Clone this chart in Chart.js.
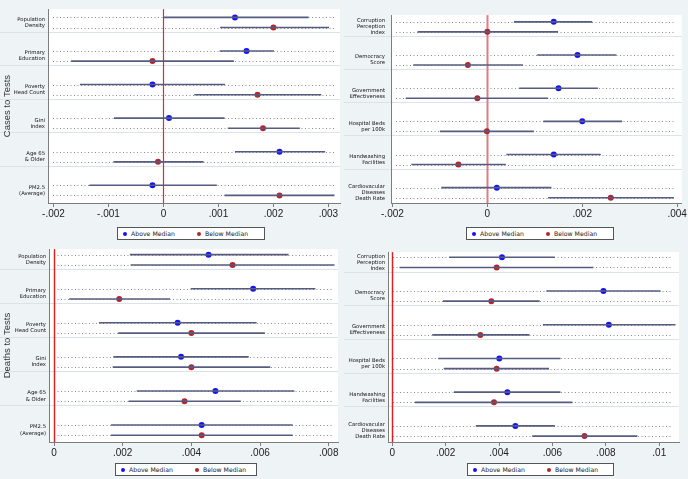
<!DOCTYPE html>
<html>
<head>
<meta charset="utf-8">
<script src="https://cdn.jsdelivr.net/npm/chart.js@4.4.1/dist/chart.umd.min.js"></script>
<style>
  body { margin: 0; background: #eef3f5; }
  #wrap { position: relative; width: 688px; height: 479px; overflow: hidden; }
  canvas { position: absolute; }
  .legend {
    position: absolute; height: 13px; background: #fff; border: 1px solid #555;
    font: 6.2px 'DejaVu Sans', sans-serif; color: #222; box-sizing: border-box; z-index: 2;
    white-space: nowrap;
  }
  .legend .item { position: absolute; top: 0; height: 11px; display: flex; align-items: center; }
  .legend .dot { width: 4px; height: 4px; border-radius: 50%; display: inline-block; margin-right: 4px; }
</style>
</head>
<body>
<div id="wrap">
  <canvas id="c1" width="344" height="225" style="left:0;top:0"></canvas>
  <canvas id="c2" width="344" height="225" style="left:344px;top:0"></canvas>
  <canvas id="c3" width="344" height="224" style="left:0;top:240px"></canvas>
  <canvas id="c4" width="344" height="224" style="left:344px;top:240px"></canvas>
</div>
<script>
// --- data ---
const seriesNames = ['Above Median', 'Below Median'];
const seriesColors = ['#1414f5', '#b3262b'];

const socialCats = [['Population', 'Density'], ['Primary', 'Education'], ['Poverty', 'Head Count'],
                    ['Gini', 'Index'], ['Age 65', '& Older'], ['PM2.5', '(Average)']];
const institCats = [['Corruption', 'Perception', 'Index'], ['Democracy', 'Score'], ['Government', 'Effectiveness'],
                    ['Hospital Beds', 'per 100k'], ['Handwashing', 'Facilities'], ['Cardiovacular', 'Diseases', 'Death Rate']];

// Cases to Tests, social factors
const casesSocAbove   = [0.00130, 0.00151, -0.00020, 0.00010, 0.00211, -0.00020];
const casesSocAboveLo = [0.00000, 0.00102, -0.00152, -0.00090, 0.00130, -0.00135];
const casesSocAboveHi = [0.00264, 0.00201, 0.00112, 0.00111, 0.00294, 0.00097];
const casesSocBelow   = [0.00200, -0.00020, 0.00171, 0.00181, -0.00010, 0.00211];
const casesSocBelowLo = [0.00103, -0.00168, 0.00056, 0.00117, -0.00091, 0.00111];
const casesSocBelowHi = [0.00301, 0.00128, 0.00287, 0.00248, 0.00073, 0.00311];

// Cases to Tests, institutional factors
const casesInsAbove   = [0.00140, 0.00190, 0.00150, 0.00200, 0.00140, 0.00020];
const casesInsAboveLo = [0.00056, 0.00105, 0.00067, 0.00118, 0.00040, -0.00097];
const casesInsAboveHi = [0.00221, 0.00272, 0.00233, 0.00284, 0.00239, 0.00135];
const casesInsBelow   = [0.00000, -0.00041, -0.00021, -0.00001, -0.00061, 0.00260];
const casesInsBelowLo = [-0.00147, -0.00156, -0.00172, -0.00100, -0.00160, 0.00128];
const casesInsBelowHi = [0.00149, 0.00075, 0.00128, 0.00098, 0.00039, 0.00393];

// Deaths to Tests, social factors
const deathsSocAbove   = [0.00450, 0.00580, 0.00360, 0.00370, 0.00470, 0.00430];
const deathsSocAboveLo = [0.00221, 0.00398, 0.00131, 0.00173, 0.00241, 0.00166];
const deathsSocAboveHi = [0.00683, 0.00761, 0.00590, 0.00567, 0.00700, 0.00695];
const deathsSocBelow   = [0.00520, 0.00190, 0.00400, 0.00400, 0.00380, 0.00430];
const deathsSocBelowLo = [0.00223, 0.00044, 0.00187, 0.00171, 0.00217, 0.00166];
const deathsSocBelowHi = [0.00817, 0.00338, 0.00614, 0.00630, 0.00544, 0.00695];

// Deaths to Tests, institutional factors
const deathsInsAbove   = [0.00411, 0.00791, 0.00811, 0.00401, 0.00431, 0.00461];
const deathsInsAboveLo = [0.00213, 0.00577, 0.00564, 0.00172, 0.00231, 0.00313];
const deathsInsAboveHi = [0.00609, 0.01005, 0.01061, 0.00630, 0.00630, 0.00609];
const deathsInsBelow   = [0.00391, 0.00371, 0.00330, 0.00391, 0.00381, 0.00720];
const deathsInsBelowLo = [0.00027, 0.00190, 0.00150, 0.00193, 0.00085, 0.00524];
const deathsInsBelowHi = [0.00753, 0.00552, 0.00514, 0.00587, 0.00675, 0.00918];

// tick labels
const ticksCasesSoc  = [-0.002, -0.001, 0, 0.001, 0.002, 0.003];
const ticksCasesIns  = [-0.002, 0, 0.002, 0.004];
const ticksDeathsSoc = [0, 0.002, 0.004, 0.006, 0.008];
const ticksDeathsIns = [0, 0.002, 0.004, 0.006, 0.008, 0.01];

// --- layout helpers ---
const GROUP_STEP = 3.31;
const rowAbove = g => g * GROUP_STEP;
const rowBelow = g => g * GROUP_STEP + 1;

function fmtTick(v) {
    if (Math.abs(v) < 1e-12) return '0';
    return String(parseFloat(v.toFixed(4))).replace(/^(-?)0\./, '$1.');
}

// white plot region, group separators, dotted row lines, zero line
const panelDeco = {
    id: 'panelDeco',
    beforeDraw(chart, args, o) {
        const { ctx, chartArea: a, scales: { y } } = chart;
        ctx.save();
        ctx.fillStyle = '#fff';
        ctx.fillRect(a.left, a.top, a.right - a.left, a.bottom - a.top);
        ctx.strokeStyle = '#dbe2e8';
        ctx.lineWidth = 1;
        for (let g = 0; g < o.groups - 1; g++) {
            const py = Math.round(y.getPixelForValue(rowBelow(g) + 0.4)) + 0.5;
            ctx.beginPath(); ctx.moveTo(0, py); ctx.lineTo(a.right, py); ctx.stroke();
        }
        ctx.restore();
    },
    beforeDatasetsDraw(chart, args, o) {
        const { ctx, chartArea: a, scales: { x, y } } = chart;
        ctx.save();
        ctx.strokeStyle = '#8c8c8c';
        ctx.lineWidth = 1;
        ctx.setLineDash([1, 2.5]);
        for (let g = 0; g < o.groups; g++) {
            [rowAbove(g), rowBelow(g)].forEach(r => {
                const py = Math.round(y.getPixelForValue(r)) + 0.5;
                ctx.beginPath(); ctx.moveTo(a.left + 5, py); ctx.lineTo(a.right - 6, py); ctx.stroke();
            });
        }
        ctx.setLineDash([]);
        const px = Math.round(x.getPixelForValue(0)) + 0.5;
        ctx.strokeStyle = o.zeroColor;
        ctx.lineWidth = o.zeroWidth;
        ctx.beginPath(); ctx.moveTo(px, a.top); ctx.lineTo(px, a.bottom); ctx.stroke();
        ctx.restore();
    }
};

function makePanel(id, cfg) {
    const datasets = [];
    const series = [
        { est: cfg.above, lo: cfg.aboveLo, hi: cfg.aboveHi, row: rowAbove },
        { est: cfg.below, lo: cfg.belowLo, hi: cfg.belowHi, row: rowBelow }
    ];
    // CI lines first
    series.forEach(s => {
        s.est.forEach((_, g) => {
            datasets.push({
                type: 'line', showLine: true, pointRadius: 0,
                borderColor: '#565c80', borderWidth: 1.6,
                data: [{ x: s.lo[g], y: s.row(g) }, { x: s.hi[g], y: s.row(g) }]
            });
        });
    });
    // point estimates
    series.forEach((s, i) => {
        datasets.push({
            type: 'scatter', label: seriesNames[i],
            data: s.est.map((v, g) => ({ x: v, y: s.row(g) })),
            pointRadius: 3, pointBackgroundColor: seriesColors[i], pointBorderWidth: 0
        });
    });

    const groups = cfg.cats.length;
    new Chart(document.getElementById(id), {
        type: 'scatter',
        data: { datasets },
        plugins: [panelDeco],
        options: {
            responsive: false,
            animation: false,
            layout: { padding: cfg.pad },
            plugins: {
                legend: { display: false },
                tooltip: { enabled: false },
                panelDeco: { groups, zeroColor: cfg.zeroColor, zeroWidth: cfg.zeroWidth }
            },
            scales: {
                x: {
                    type: 'linear', min: cfg.xMin, max: cfg.xMax,
                    afterBuildTicks: sc => { sc.ticks = cfg.ticks.map(v => ({ value: v })); },
                    afterFit: sc => { sc.height = 22; },
                    ticks: {
                        autoSkip: false, maxRotation: 0, padding: 1,
                        callback: v => fmtTick(v),
                        font: { family: "'Liberation Sans', Arial, sans-serif", size: 10 }, color: '#222'
                    },
                    grid: { drawOnChartArea: false, drawTicks: true, tickLength: 4, color: '#7d7d7d' },
                    border: { display: true, color: '#7d7d7d', width: 1 }
                },
                y: {
                    type: 'linear', reverse: true, min: cfg.yMin, max: cfg.yMax,
                    afterBuildTicks: sc => { sc.ticks = cfg.cats.map((_, g) => ({ value: g * GROUP_STEP + 0.5 })); },
                    afterFit: sc => { sc.width = cfg.yWidth; },
                    ticks: {
                        autoSkip: false, padding: cfg.labelPad,
                        callback: (v, i) => cfg.cats[i],
                        font: { family: "'DejaVu Sans', Verdana, sans-serif", size: 5.3, lineHeight: 1.15 }, color: '#111'
                    },
                    grid: { display: false, drawTicks: false, tickLength: 0 },
                    border: { display: true, color: '#7d7d7d', width: 1 },
                    title: {
                        display: !!cfg.title, text: cfg.title || '', padding: { top: 2, bottom: 0 },
                        font: { family: "'Liberation Sans', Arial, sans-serif", size: 9.5 }, color: '#333'
                    }
                }
            }
        }
    });
}

function makeLegend(left, top, width) {
    const box = document.createElement('div');
    box.className = 'legend';
    box.style.left = left + 'px';
    box.style.top = top + 'px';
    box.style.width = width + 'px';
    seriesNames.forEach((name, i) => {
        const item = document.createElement('span');
        item.className = 'item';
        item.style.left = (i === 0 ? 5 : 79) + 'px';
        item.innerHTML = `<span class="dot" style="background:${seriesColors[i]}"></span>${name}`;
        box.appendChild(item);
    });
    document.getElementById('wrap').appendChild(box);
}

makePanel('c1', {
    cats: socialCats, title: 'Cases to Tests',
    above: casesSocAbove, aboveLo: casesSocAboveLo, aboveHi: casesSocAboveHi,
    below: casesSocBelow, belowLo: casesSocBelowLo, belowHi: casesSocBelowHi,
    ticks: ticksCasesSoc, xMin: -0.0021, xMax: 0.00321, yMin: -0.82, yMax: 18.3,
    yWidth: 48, labelPad: 3, pad: { left: 0, right: 4, top: 0, bottom: 0 },
    zeroColor: '#d2303a', zeroWidth: 1.2
});
makePanel('c2', {
    cats: institCats,
    above: casesInsAbove, aboveLo: casesInsAboveLo, aboveHi: casesInsAboveHi,
    below: casesInsBelow, belowLo: casesInsBelowLo, belowHi: casesInsBelowHi,
    ticks: ticksCasesIns, xMin: -0.00203, xMax: 0.0041, yMin: -0.67, yMax: 18.08,
    yWidth: 47, labelPad: 6, pad: { left: 0, right: 6, top: 0, bottom: 0 },
    zeroColor: '#de7c84', zeroWidth: 2
});
makePanel('c3', {
    cats: socialCats, title: 'Deaths to Tests',
    above: deathsSocAbove, aboveLo: deathsSocAboveLo, aboveHi: deathsSocAboveHi,
    below: deathsSocBelow, belowLo: deathsSocBelowLo, belowHi: deathsSocBelowHi,
    ticks: ticksDeathsSoc, xMin: -0.000146, xMax: 0.00827, yMin: -0.54, yMax: 18.2,
    yWidth: 49, labelPad: 3, pad: { left: 0, right: 6, top: 3, bottom: 0 },
    zeroColor: '#d92424', zeroWidth: 1.5
});
makePanel('c4', {
    cats: institCats,
    above: deathsInsAbove, aboveLo: deathsInsAboveLo, aboveHi: deathsInsAboveHi,
    below: deathsInsBelow, belowLo: deathsInsBelowLo, belowHi: deathsInsBelowHi,
    ticks: ticksDeathsIns, xMin: -0.00016, xMax: 0.01074, yMin: -0.5, yMax: 18.13,
    yWidth: 44, labelPad: 3, pad: { left: 0, right: 9, top: 3, bottom: 0 },
    zeroColor: '#d92424', zeroWidth: 1.5
});

makeLegend(117, 227, 148);
makeLegend(466, 227, 148);
makeLegend(115, 463, 142);
makeLegend(467, 463, 147);
</script>
</body>
</html>
